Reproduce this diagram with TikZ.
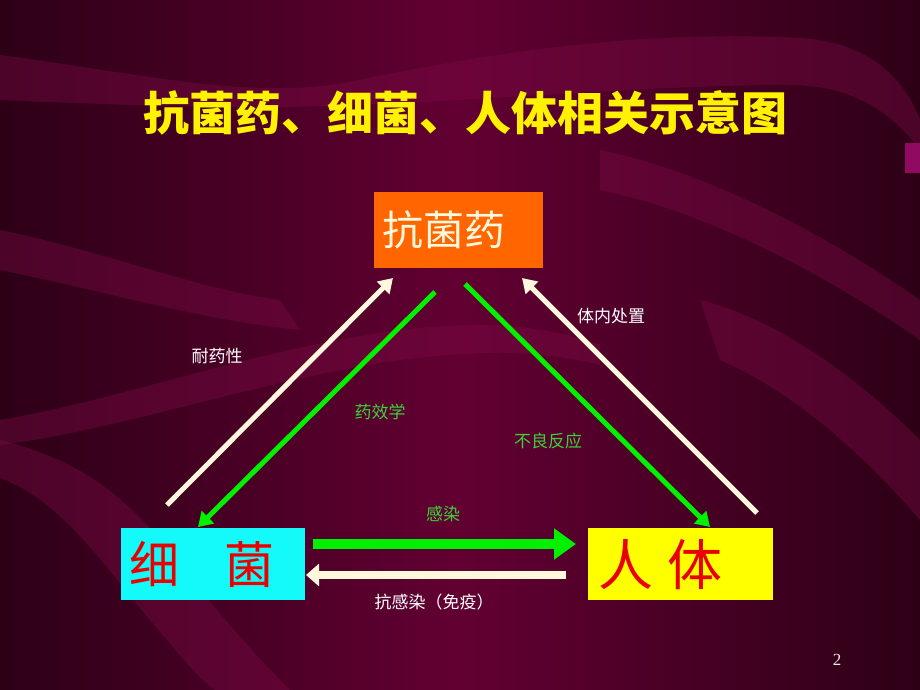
\documentclass[tikz,border=0pt]{standalone}
\usepackage{fontspec}
\setmainfont{Liberation Serif}
\newfontfamily\cjk{Noto Sans CJK SC}
\usetikzlibrary{arrows.meta}
\definecolor{bgmid}{RGB}{98,0,50}
\definecolor{bgdark}{RGB}{45,0,22}
\definecolor{band}{RGB}{125,12,70}
\definecolor{cream}{RGB}{255,248,220}
\definecolor{lime}{RGB}{0,240,0}
\definecolor{lbl}{RGB}{60,210,60}
\definecolor{drugc}{RGB}{255,102,0}
\definecolor{bactc}{RGB}{20,250,250}
\definecolor{humanc}{RGB}{255,255,0}
\definecolor{redt}{RGB}{235,0,0}
\tikzset{
  wave/.style={fill=band, fill opacity=0.4, draw=none},
  boxn/.style={anchor=north west, inner ysep=0pt, align=left, font=\cjk},
  small/.style={font=\cjk\fontsize{17}{20}\selectfont},
  thinarrow/.style={line width=5pt, -{Triangle[length=14pt,width=17pt]}},
}
\begin{document}
\begin{tikzpicture}[x=1pt,y=-1pt]
\useasboundingbox (0,0) rectangle (920,690);
% background
\shade[left color=bgdark, right color=bgdark, middle color=bgmid] (0,0) rectangle (920,690);
% waves
\fill[wave] (0,55) .. controls (150,75) and (250,100) .. (350,82)
  .. controls (500,50) and (650,30) .. (800,38)
  .. controls (870,42) and (905,80) .. (920,120) -- (920,150)
  .. controls (890,110) and (850,85) .. (790,85)
  .. controls (650,85) and (500,100) .. (350,105)
  .. controls (250,110) and (120,105) .. (0,100) -- cycle;
\fill[wave] (0,420) .. controls (120,400) and (250,350) .. (400,330)
  .. controls (500,318) and (560,330) .. (600,345) -- (600,365)
  .. controls (540,350) and (480,350) .. (400,360)
  .. controls (260,380) and (120,430) .. (0,445) -- cycle;
\fill[wave] (0,478) .. controls (60,500) and (100,560) .. (150,620)
  .. controls (180,655) and (200,680) .. (215,690) -- (290,690)
  .. controls (240,640) and (200,590) .. (160,540)
  .. controls (110,480) and (60,455) .. (0,440) -- cycle;
\fill[wave] (700,300) .. controls (780,320) and (860,380) .. (920,440) -- (920,520)
  .. controls (860,450) and (790,390) .. (720,360) -- cycle;
\fill[wave] (0,230) .. controls (100,250) and (200,290) .. (280,300) -- (300,330)
  .. controls (200,320) and (100,290) .. (0,270) -- cycle;
\fill[wave] (600,150) .. controls (700,170) and (820,230) .. (920,300) -- (920,340)
  .. controls (820,270) and (700,210) .. (600,190) -- cycle;
\fill[band!85!magenta] (905,143) rectangle (920,173);
% title
\node[font=\cjk\bfseries\fontsize{46}{50}\selectfont, text=yellow] (title) at (465,113) {抗菌药、细菌、人体相关示意图};
% boxes
\node[boxn, fill=drugc, minimum height=76pt, text width=153pt, inner xsep=8pt, text=cream,
  font=\cjk\fontsize{41}{44}\selectfont] (drug) at (374,192) {抗菌药};
\node[boxn, fill=bactc, minimum height=72pt, text width=168pt, inner xsep=8pt, text=redt,
  font=\cjk\fontsize{50}{54}\selectfont] (bact) at (121,528) {细\hspace{45pt}菌};
\node[boxn, fill=humanc, minimum height=72pt, text width=165pt, inner xsep=10pt, text=redt,
  font=\cjk\fontsize{55}{58}\selectfont] (human) at (588,528) {人\hspace{14pt}体};
% arrow end points
\coordinate (rs) at (167,505); \coordinate (re) at (393,278);
\coordinate (ps) at (435,292); \coordinate (pe) at (198,527);
\coordinate (as) at (465,284); \coordinate (ae) at (710,527);
\coordinate (ds) at (757,513); \coordinate (de) at (522,278);
\coordinate (is) at (313,544); \coordinate (ie) at (576,544);
\coordinate (ims) at (566,575); \coordinate (ime) at (306,575);
% arrows
\draw[thinarrow, cream] (rs) -- (re);
\draw[thinarrow, lime] (ps) -- (pe);
\draw[thinarrow, lime] (as) -- (ae);
\draw[thinarrow, cream] (ds) -- (de);
\draw[lime, line width=10pt, -{Triangle[length=22pt,width=30pt]}] (is) -- (ie);
\draw[cream, line width=8pt, -{Triangle[length=13pt,width=22pt]}] (ims) -- (ime);
% labels
\node[small, text=white] (l1) at (217,356) {耐药性};
\node[small, text=white] (l2) at (611,316) {体内处置};
\node[small, text=lbl] (l3) at (380,412) {药效学};
\node[small, text=lbl] (l4) at (548,441) {不良反应};
\node[small, text=lbl] (l5) at (443,514) {感染};
\node[small, text=white] (l6) at (434,602) {抗感染（免疫）};
\node[text=white!85!gray, font=\fontsize{17}{20}\selectfont] (pg) at (837,660) {2};
\end{tikzpicture}
\end{document}
